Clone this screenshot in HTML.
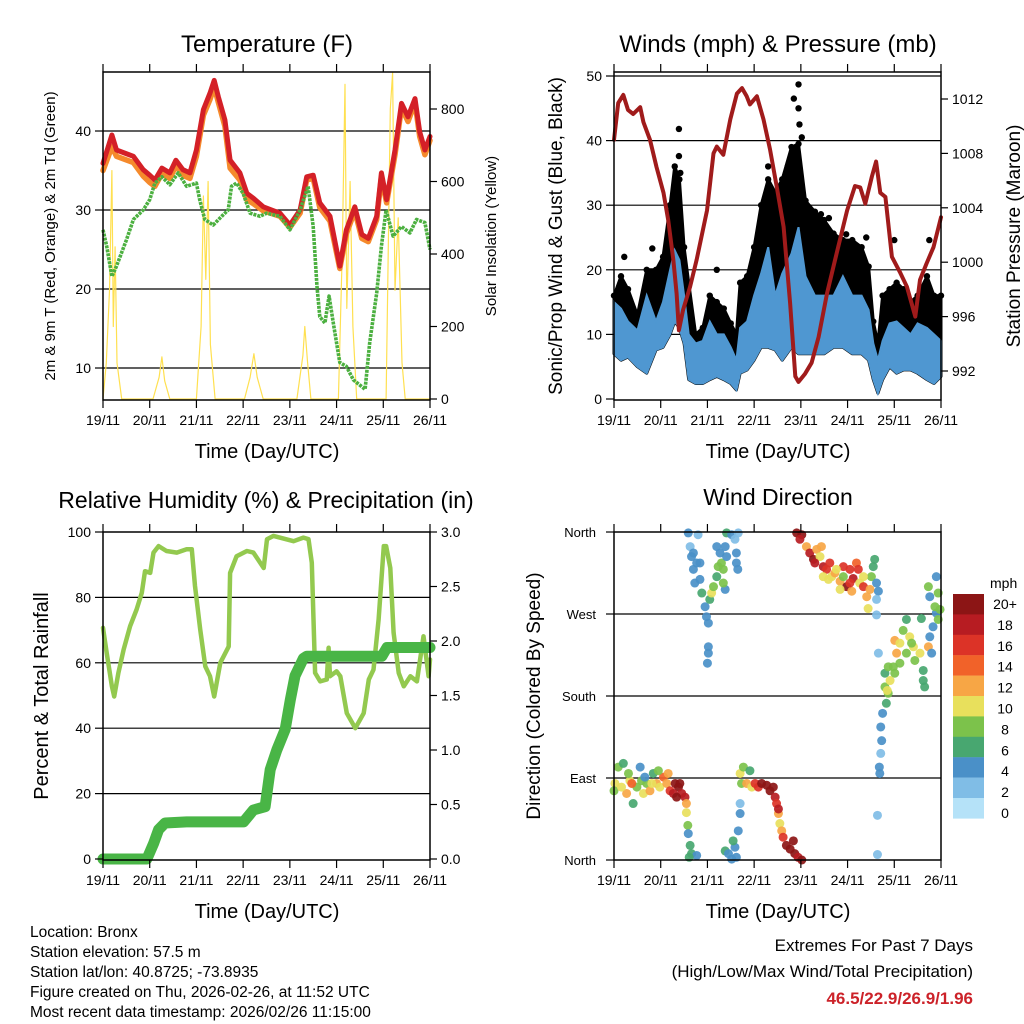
<!DOCTYPE html>
<html><head><meta charset="utf-8"><style>
html,body{margin:0;padding:0;background:#fff;}
svg{display:block;font-family:"Liberation Sans",Arial,sans-serif;}
</style></head><body>
<svg id="c" width="1024" height="1024" viewBox="0 0 1024 1024">
<rect width="1024" height="1024" fill="#fff"/>
<text x="267" y="52" font-size="24" text-anchor="middle">Temperature (F)</text>
<text x="778" y="52" font-size="24" text-anchor="middle">Winds (mph) &amp; Pressure (mb)</text>
<text x="266" y="508" font-size="23" text-anchor="middle">Relative Humidity (%) &amp; Precipitation (in)</text>
<text x="778" y="505" font-size="23" text-anchor="middle">Wind Direction</text>
<text x="267" y="458" font-size="20" text-anchor="middle">Time (Day/UTC)</text>
<text x="778" y="458" font-size="20" text-anchor="middle">Time (Day/UTC)</text>
<text x="267" y="918" font-size="20" text-anchor="middle">Time (Day/UTC)</text>
<text x="778" y="918" font-size="20" text-anchor="middle">Time (Day/UTC)</text>
<text transform="translate(55,236) rotate(-90)" font-size="15" text-anchor="middle">2m &amp; 9m T (Red, Orange) &amp; 2m Td (Green)</text>
<text transform="translate(496,236) rotate(-90)" font-size="15" text-anchor="middle">Solar Insolation (Yellow)</text>
<text transform="translate(562,236) rotate(-90)" font-size="19" text-anchor="middle">Sonic/Prop Wind &amp; Gust (Blue, Black)</text>
<text transform="translate(1020,236) rotate(-90)" font-size="19" text-anchor="middle">Station Pressure (Maroon)</text>
<text transform="translate(48,696) rotate(-90)" font-size="20" text-anchor="middle">Percent &amp; Total Rainfall</text>
<text transform="translate(540,696) rotate(-90)" font-size="19" text-anchor="middle">Direction (Colored By Speed)</text>
<g font-size="15.5">
<text x="30" y="937">Location: Bronx</text>
<text x="30" y="957">Station elevation: 57.5 m</text>
<text x="30" y="977">Station lat/lon: 40.8725; -73.8935</text>
<text x="30" y="997">Figure created on Thu, 2026-02-26, at 11:52 UTC</text>
<text x="30" y="1017">Most recent data timestamp: 2026/02/26 11:15:00</text>
</g>
<text x="973" y="951" font-size="17" text-anchor="end">Extremes For Past 7 Days</text>
<text x="973" y="977" font-size="17" text-anchor="end">(High/Low/Max Wind/Total Precipitation)</text>
<text x="973" y="1004" font-size="17" font-weight="bold" fill="#cc2229" text-anchor="end">46.5/22.9/26.9/1.96</text>
<text x="990" y="588" font-size="14">mph</text>
</svg>
<script>
// ---------- data ----------
const dayLabels=["19/11","20/11","21/11","22/11","23/11","24/11","25/11","26/11"];
const tempT=[0,0.19,0.29,0.65,0.86,1.0,1.11,1.26,1.43,1.56,1.71,1.86,2.0,2.15,2.29,2.38,2.47,2.61,2.72,2.93,3.08,3.22,3.43,3.79,4.0,4.22,4.36,4.5,4.64,4.86,5.07,5.21,5.39,5.54,5.68,5.86,5.96,6.07,6.25,6.39,6.53,6.68,6.78,6.89,7.0];
const tempRed=[35.9,39.5,37.6,36.8,35.1,34.4,33.8,35.3,34.7,36.3,35.1,34.7,37.6,42.7,44.8,46.4,44.3,41.4,36.3,34.7,32.1,31.5,30.4,29.6,28.1,30.0,34.2,34.4,30.9,29.2,22.9,27.5,30.4,26.9,26.4,29.2,34.7,31.3,37.6,43.5,41.8,44.1,39.9,37.6,39.3];
const tempOrange=[35.0,38.0,36.8,36.0,34.3,33.5,33.0,34.6,34.0,35.6,34.4,34.0,36.8,42.0,44.0,45.6,43.6,40.6,35.3,33.8,31.3,30.8,29.9,29.2,27.8,29.6,33.8,34.0,30.3,28.6,22.6,27.0,29.9,26.4,26.0,28.8,34.2,30.9,37.0,43.0,41.2,43.6,39.3,37.0,38.8];
const dewT=[0,0.08,0.19,0.29,0.5,0.65,0.86,1.0,1.11,1.26,1.43,1.61,1.79,2.0,2.07,2.18,2.36,2.54,2.68,2.75,2.86,3.0,3.15,3.36,3.5,3.79,4.0,4.22,4.39,4.5,4.58,4.64,4.75,4.84,4.93,5.07,5.21,5.36,5.61,5.71,5.86,5.96,6.06,6.21,6.39,6.57,6.71,6.89,7.0];
const dewVal=[27.5,25.4,21.6,22.9,26.2,28.8,30.0,31.3,33.4,34.2,33.2,34.7,33.0,33.4,31.3,28.8,28.1,29.2,30.0,33.0,33.4,32.1,29.6,29.2,29.6,29.2,27.5,30.0,33.0,27.9,20.3,16.5,15.7,19.1,15.7,10.7,10.2,8.5,7.3,13.2,19.5,25.4,30.0,26.7,27.9,27.1,28.8,28.4,25.0];
const solarT=[0,0.07,0.14,0.19,0.22,0.26,0.3,0.4,1.07,1.2,1.26,1.32,1.43,2.0,2.1,2.15,2.2,2.25,2.3,2.4,3.03,3.15,3.23,3.3,3.43,4.15,4.28,4.32,4.38,4.45,5.04,5.12,5.18,5.22,5.29,5.35,5.43,6.06,6.15,6.2,6.25,6.32,6.4,6.47,7.0];
const solarVal=[0,100,300,630,200,420,100,0,0,60,116,50,0,0,200,560,330,600,150,0,0,60,125,60,0,0,120,200,100,0,0,400,868,250,600,200,0,0,800,900,300,500,100,0,0];
const windT=[0,0.15,0.3,0.5,0.7,0.9,1.05,1.2,1.3,1.4,1.5,1.6,1.75,1.9,2.05,2.2,2.35,2.5,2.62,2.7,2.85,3.0,3.15,3.3,3.45,3.6,3.8,3.95,4.1,4.3,4.5,4.7,4.9,5.1,5.3,5.45,5.55,5.65,5.75,5.9,6.05,6.2,6.35,6.5,6.7,6.85,7.0];
const windLo=[7,6,6.5,5,4,7.6,8,10,12,11,8.6,3,2.4,2.4,3,3.5,3,2.4,1.4,4,4.5,6,8,8,7.6,6,8,7,7,7,7,8,8,7,7,6,3,0.9,3,5,4,4.5,4.5,4,3,2.4,3.5];
const windHi=[15,14,12,10.6,16,12,15,20,23,21.5,16,10,8.6,9,12,10,10,8,6,11,12,16,19.4,23.5,16,19.4,22.5,26.6,19,16,16,16,19,16,16,13.8,8.6,6,9,11.7,12,11,10,11.7,11,10,9];
const gustHi=[16,19,17,13,20,20,22,30,36,34,23.5,18,10,11,16,15,14,11.7,10,18,19,23.5,30,34,32,34,39,39.5,30.7,29,27.7,25.6,24.6,24.6,23.5,20.5,12,8.6,16,17,18,17,15,16,19,16,16];
const gustOutT=[0.22,0.82,1.35,1.39,1.39,1.42,3.72,3.85,3.95,3.95,3.97,4.02,3.88,4.15,4.43,4.6,4.97,5.4,6.0,6.75,3.3,2.2];
const gustOutV=[22,23.3,32,41.8,37.6,35,36,46.5,48.7,45,42.5,40.5,38,29.7,28.6,28,25.5,25,24.6,24.6,36,20];
const presT=[0,0.09,0.2,0.3,0.41,0.56,0.63,0.77,0.91,1.06,1.16,1.27,1.34,1.39,1.48,1.63,1.77,1.99,2.13,2.2,2.34,2.49,2.63,2.74,2.84,2.91,3.06,3.2,3.34,3.48,3.63,3.77,3.88,3.95,4.09,4.23,4.38,4.56,4.77,4.99,5.16,5.27,5.38,5.52,5.61,5.7,5.81,5.95,6.13,6.27,6.45,6.55,6.69,6.84,7.0];
const presVal=[1009.0,1011.7,1012.3,1011.2,1010.9,1011.4,1010.3,1009.0,1007.0,1005.1,1003.1,1000.2,997.7,995.0,996.5,998.2,1000.2,1003.8,1008.0,1008.5,1007.9,1010.5,1012.4,1012.8,1012.2,1011.6,1012.2,1010.5,1008.3,1005.6,1002.6,997.0,991.6,991.2,991.8,992.6,994.5,997.7,1000.7,1003.8,1005.6,1005.5,1004.3,1006.3,1007.4,1005.1,1004.8,1000.4,999.2,998.2,996.0,998.7,999.9,1001.1,1003.3];
const rhT=[0,0.08,0.19,0.24,0.33,0.44,0.58,0.72,0.83,0.9,1.01,1.08,1.19,1.36,1.58,1.79,1.9,1.97,2.08,2.19,2.29,2.38,2.51,2.69,2.72,2.86,3.08,3.22,3.44,3.51,3.65,4.08,4.29,4.4,4.47,4.54,4.65,4.79,4.83,4.86,5.0,5.08,5.22,5.4,5.58,5.69,5.79,5.9,6.01,6.06,6.15,6.22,6.33,6.44,6.58,6.72,6.86,6.97,7.0];
const rhVal=[70.7,63,52.8,49.7,56.9,64,71.2,76.3,81.4,88,87.5,93.7,95.7,94.2,93.7,94.7,94.7,83.5,70.2,58.9,55.9,49.7,60,65,87.5,92.6,94.2,93.7,89,97.8,98.8,97.2,98.3,97.8,90.6,56.9,54.3,54.9,64.6,55.9,57.4,55.9,44.6,40,44.6,54.9,57.9,73.2,95.7,95.7,89,69.2,56.9,52.8,55.9,54.3,68.1,55.9,61];
const rainT=[0,0.94,1.08,1.19,1.33,1.79,3.01,3.22,3.47,3.58,3.72,3.9,4.01,4.11,4.29,4.36,5.97,6.08,7.0];
const rainVal=[0,0,0.14,0.27,0.33,0.34,0.34,0.45,0.48,0.82,1.0,1.19,1.46,1.68,1.84,1.86,1.86,1.94,1.94];
const dirT=[0.02,0.09,0.2,0.27,0.34,0.41,0.49,0.56,0.63,0.7,0.77,0.84,0.91,0.98,1.06,1.13,1.2,1.31,1.38,1.45,1.52,1.55,1.55,1.58,1.59,1.63,1.66,1.77,1.61,0,0.16,0.31,0.38,0.59,0.66,0.81,0.95,1.16,1.27,1.41,1.34,
1.59,1.63,1.8,1.66,1.7,1.73,1.77,1.84,1.88,1.95,1.98,2.02,2.02,2.02,2.0,2.05,2.09,2.13,2.2,2.23,2.3,2.34,2.27,2.38,2.41,2.52,2.59,2.62,2.66,2.62,2.65,2.38,2.2,1.84,1.7,2.34,2.41,2.38,2.45,2.52,2.59,2.55,2.62,2.66,2.7,2.7,
2.7,2.77,2.91,2.73,2.84,2.95,3.02,3.09,3.16,3.27,3.34,3.41,3.45,3.48,3.52,3.55,3.59,3.62,3.69,3.77,3.84,3.87,3.94,4.02,3.52,
3.91,4.02,3.98,4.12,4.19,4.27,4.34,4.41,4.44,4.48,4.55,4.62,4.66,4.73,4.84,4.91,4.98,5.05,5.12,5.19,5.23,5.26,5.34,5.41,5.44,5.48,5.51,5.55,5.58,5.62,5.66,5.62,4.59,4.84,5.09,5.34,4.3,4.91,4.76,4.48,5.05,
5.62,5.66,5.64,5.64,5.69,5.68,5.71,5.73,5.71,5.75,5.83,5.87,5.8,5.91,5.8,5.87,5.98,6.05,6.01,6.12,6.19,6.26,6.33,6.41,6.26,6.44,6.55,6.62,6.65,6.62,6.73,6.8,6.76,6.83,6.9,6.87,6.94,6.98,6.94,6.76,6.9,6.73,6.58,6.37,6.12,6.01,5.85];
const dirDeg=[84,102,106,73,87,62,80,102,73,84,76,95,84,80,91,84,76,84,80,73,69,62,52,38,29,16,7,5,3,76,80,95,84,87,91,84,98,95,73,84,69,
359,344,357,333,319,304,326,308,293,278,267,260,234,227,216,286,293,300,311,322,326,319,337,344,359,357,352,337,359,326,319,297,344,326,337,304,333,10,7,1,14,21,3,32,51,62,
95,102,98,84,84,80,84,80,84,82,76,80,69,62,51,40,32,25,16,12,21,7,3,0,56,
359,357,352,344,337,330,341,333,344,322,319,326,311,315,306,311,300,319,309,326,319,304,300,289,276,297,311,322,330,304,295,286,308,297,295,311,326,322,319,311,304,
269,227,49,6,95,102,117,131,146,161,172,183,190,197,205,212,212,227,241,238,252,264,245,234,227,219,227,208,190,197,234,227,245,256,271,278,264,275,293,289,311,300,265,238,216,205,186];
const dirSpd=[10,8,6,12,10,6,8,4,10,8,12,6,12,10,14,12,16,21,21,18,18,12,10,8,4,6,6,4,6,8,10,8,14,8,4,10,8,12,18,21,21,
4,2,2,4,4,4,4,4,6,4,4,4,4,4,4,6,10,8,6,8,8,8,4,4,6,4,2,4,2,4,4,4,4,4,4,8,4,6,4,4,4,6,4,4,4,2,
10,8,6,8,12,10,16,16,21,21,21,21,18,16,12,10,12,16,21,21,21,21,18,21,18,
21,21,18,12,18,21,12,10,12,18,16,16,10,12,12,8,21,16,18,14,16,10,16,12,10,12,8,6,6,4,4,2,10,10,12,10,18,16,10,10,16,
2,2,2,2,4,4,2,4,4,4,6,8,8,10,6,8,8,12,12,10,8,6,10,10,8,8,10,6,6,6,12,4,4,4,4,8,8,8,8,4,4,8,6,8,8,8,10];
const cbLabels=["20+","18","16","14","12","10","8","6","4","2","0"];
const cbColors=["#8c1515","#b71c22","#dc3327","#f16229","#f7a645","#e8e05c","#7cc24b","#48a770","#4a90c8","#80bde6","#b5e2f8"];

// ---------- helpers ----------
const svg=document.getElementById('c');
const NS='http://www.w3.org/2000/svg';
function mk(tag,attrs){const e=document.createElementNS(NS,tag);for(const k in attrs)e.setAttribute(k,attrs[k]);svg.appendChild(e);return e;}
const X1=t=>103+t*46.714, X2=t=>614+t*46.714;
const Yt=v=>400-(v-5.95)*7.9, Ys=w=>399-w*0.3625;
const Yw=v=>399-v*6.46, Yp=p=>371-(p-992)*13.6;
const Yr=v=>859-v*3.27, Yi=v=>859-v*109;
const Yd=d=>860-d*0.9111;
function pts(ts,vs,X,Y){return ts.map((t,i)=>X(t).toFixed(1)+','+Y(vs[i]).toFixed(1)).join(' ');}
function line(name,ts,vs,X,Y,color,w,extra){
  const e=mk('polyline',Object.assign({points:pts(ts,vs,X,Y),fill:'none',stroke:color,'stroke-width':w,'stroke-linejoin':'round','stroke-linecap':'round'},extra||{}));
  
  
  return e;
}
function hline(name,x1,x2,y,c,w){const e=mk('line',{x1:x1,x2:x2,y1:y,y2:y,stroke:c,'stroke-width':w});
  
  }
function vline(name,x,y1,y2,c,w){const e=mk('line',{x1:x,x2:x,y1:y1,y2:y2,stroke:c,'stroke-width':w});
  
  }
function txt(name,x,y,s,anchor,size){const e=mk('text',{x:x,y:y,'font-size':size||14,'text-anchor':anchor||'middle'});e.textContent=s;
  
  }
function frame(prefix,x0,y0,X){
  const e=mk('rect',{x:x0,y:y0,width:327,height:328,fill:'none',stroke:'#000','stroke-width':1.5});
  
  
  dayLabels.forEach((d,i)=>{const x=X(i);
    vline(prefix+'-x-tick',x,y0+328,y0+336,'#000',1.2);
    vline(prefix+'-x-tick-top',x,y0-8,y0,'#000',1.2);
    txt(prefix+'-x-tick-label',x,y0+353,d,'middle',14);});
}
function leftTicks(prefix,vals,labels,Y,x0){vals.forEach((v,i)=>{const y=Y(v);hline(prefix+'-y-tick',x0-8,x0,y,'#000',1.2);txt(prefix+'-y-tick-label',x0-12,y+5,labels[i],'end',14);});}
function rightTicks(prefix,vals,labels,Y,x1){vals.forEach((v,i)=>{const y=Y(v);hline(prefix+'-y2-tick',x1,x1+7,y,'#000',1.2);txt(prefix+'-y2-tick-label',x1+11,y+5,labels[i],'start',14);});}

// ---------- Panel 1: Temperature ----------
[10,20,30,40].forEach(v=>hline('temp-gridline',103,430,Yt(v),'#000',1.2));
line('solar-line',solarT,solarVal,X1,Ys,'#ffe050',1.2);
line('temp-9m-orange-line',tempT,tempOrange,X1,Yt,'#f58a2c',5.5);
line('temp-2m-red-line',tempT,tempRed,X1,Yt,'#d42027',5);
line('dewpoint-green-line',dewT,dewVal,X1,Yt,'#4cb040',3.6,{'stroke-dasharray':'3 1','stroke-linecap':'butt'});
frame('temp',103,72,X1);
leftTicks('temp',[10,20,30,40],['10','20','30','40'],Yt,103);
rightTicks('solar',[0,200,400,600,800],['0','200','400','600','800'],Ys,430);

// ---------- Panel 2: Winds ----------
[10,20,30,40,50].forEach(v=>hline('wind-gridline',614,941,Yw(v),'#000',1.2));
(function(){
  const up=windT.map((t,i)=>X2(t).toFixed(1)+','+Yw(gustHi[i]).toFixed(1));
  const dn=windT.map((t,i)=>X2(t).toFixed(1)+','+Yw(windLo[i]).toFixed(1)).reverse();
  const e=mk('polygon',{points:up.concat(dn).join(' '),fill:'#000',stroke:'#000','stroke-width':3,'stroke-linejoin':'round'});
  
  
  windT.forEach((t,i)=>{const d=mk('circle',{cx:X2(t),cy:Yw(gustHi[i]),r:3.2,fill:'#000'});
    
    });
  gustOutT.forEach((t,i)=>{const d=mk('circle',{cx:X2(t),cy:Yw(gustOutV[i]),r:3.2,fill:'#000'});
    
    });
  const up2=windT.map((t,i)=>X2(t).toFixed(1)+','+Yw(windHi[i]).toFixed(1));
  const dn2=windT.map((t,i)=>X2(t).toFixed(1)+','+Yw(windLo[i]).toFixed(1)).reverse();
  const b=mk('polygon',{points:up2.concat(dn2).join(' '),fill:'#4f97d1',stroke:'#4f97d1','stroke-width':2});
  
  
})();
line('pressure-line',presT,presVal,X2,Yp,'#a01b1b',4);
frame('wind',614,72,X2);
leftTicks('wind',[0,10,20,30,40,50],['0','10','20','30','40','50'],Yw,614);
rightTicks('pressure',[992,996,1000,1004,1008,1012],['992','996','1000','1004','1008','1012'],Yp,941);

// ---------- Panel 3: RH & precip ----------
[20,40,60,80].forEach(v=>hline('rh-gridline',103,430,Yr(v),'#000',1.2));
line('rh-line',rhT,rhVal,X1,Yr,'#93c94f',4.5);
line('rainfall-line',rainT,rainVal,X1,Yi,'#49b546',11);
frame('rh',103,532,X1);
leftTicks('rh',[0,20,40,60,80,100],['0','20','40','60','80','100'],Yr,103);
rightTicks('rain',[0,0.5,1,1.5,2,2.5,3],['0.0','0.5','1.0','1.5','2.0','2.5','3.0'],Yi,430);

// ---------- Panel 4: Wind direction ----------
[90,180,270].forEach(v=>hline('dir-gridline',614,941,Yd(v),'#000',1.2));
function spdColor(s){const idx=Math.min(10,Math.max(0,10-Math.floor(s/2)));return cbColors[idx];}
dirT.forEach((t,i)=>{const c=mk('circle',{cx:X2(t),cy:Yd(dirDeg[i]),r:4.5,fill:spdColor(dirSpd[i]),'fill-opacity':0.92});
  
  });
frame('dir',614,532,X2);
[0,90,180,270,360].forEach((v,i)=>{const y=Yd(v);hline('dir-y-tick',606,614,y,'#000',1.2);
  txt('dir-y-tick-label',596,y+5,['North','East','South','West','North'][i],'end',13);});
cbColors.forEach((col,i)=>{const r=mk('rect',{x:953,y:594+i*20.4,width:31,height:20.6,fill:col});
  
  
  txt('colorbar-label',1005,609+i*20.9,cbLabels[i],'middle',14);});
</script>
</body></html>
